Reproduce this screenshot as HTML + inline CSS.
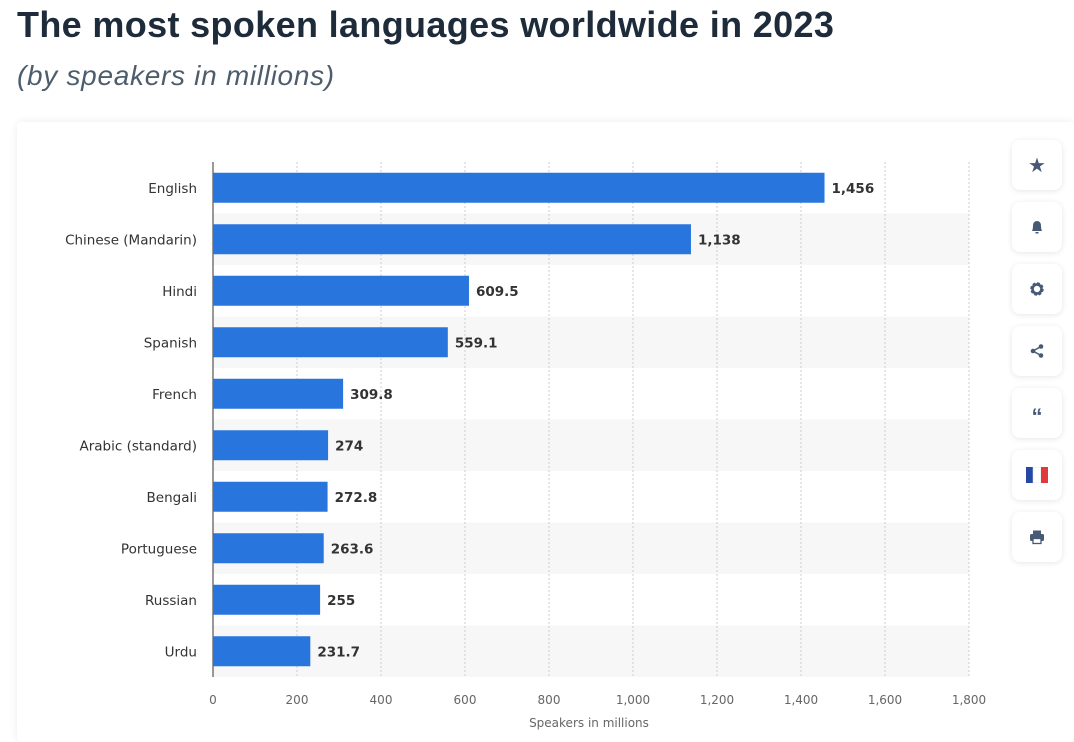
<!DOCTYPE html>
<html><head><meta charset="utf-8"><style>
body{margin:0;width:1074px;height:735px;background:#fff;font-family:"Liberation Sans",sans-serif;overflow:hidden;position:relative}
h1{position:absolute;left:17px;top:4px;margin:0;font-size:36px;font-weight:bold;color:#1d2b3a;letter-spacing:0.35px}
h2{position:absolute;left:17px;top:60px;margin:0;font-size:28px;font-style:italic;font-weight:normal;color:#4e5d6c;letter-spacing:0.7px}
#card{position:absolute;left:17px;top:122px;width:1057px;height:620px;background:#fff;box-shadow:0 0 8px rgba(0,0,0,.08);border-radius:4px}
.btn{position:absolute;left:1012px;width:50px;height:50px;background:#fff;border-radius:8px;box-shadow:0 1px 6px rgba(0,0,0,.1);display:flex;align-items:center;justify-content:center;color:#475a75;font-size:20px}
svg{position:absolute;left:0;top:0}
</style></head><body>
<h1>The most spoken languages worldwide in 2023</h1>
<h2>(by speakers in millions)</h2>
<div id="card"></div>
<svg id="chart" width="1074" height="735"></svg>
<div class="btn" style="top:140px">★</div>
<div class="btn" style="top:202px"><svg width="16" height="16" viewBox="0 0 16 16" style="position:static"><path d="M3 12 Q4 10 4 7 Q4 2 8 2 Q12 2 12 7 Q12 10 13 12Z M6.5 13h3v1.5h-3z" fill="#475a75"/></svg></div>
<div class="btn" style="top:264px"><svg width="16" height="16" viewBox="0 0 16 16" style="position:static"><circle cx="8" cy="8" r="5" fill="none" stroke="#475a75" stroke-width="3.5" stroke-dasharray="2.5,1.4"/><circle cx="8" cy="8" r="4.5" fill="none" stroke="#475a75" stroke-width="2.5"/></svg></div>
<div class="btn" style="top:326px"><svg width="16" height="16" viewBox="0 0 16 16" style="position:static"><circle cx="12" cy="3.5" r="2.3" fill="#475a75"/><circle cx="4" cy="8" r="2.3" fill="#475a75"/><circle cx="12" cy="12.5" r="2.3" fill="#475a75"/><path d="M12 3.5L4 8L12 12.5" stroke="#475a75" stroke-width="1.5" fill="none"/></svg></div>
<div class="btn" style="top:388px;font-weight:bold;font-size:22px;padding-top:8px;box-sizing:border-box">“</div>
<div class="btn" style="top:450px"><svg width="22" height="16" style="position:static"><rect x="0" y="0" width="7" height="16" fill="#2547a8"/><rect x="7" y="0" width="8" height="16" fill="#fff" stroke="#ddd" stroke-width=".5"/><rect x="15" y="0" width="7" height="16" fill="#e03a3e"/></svg></div>
<div class="btn" style="top:512px"><svg width="16" height="16" viewBox="0 0 16 16" style="position:static"><rect x="4" y="1.5" width="8" height="4" fill="#475a75"/><rect x="1" y="5" width="14" height="7" rx="1.5" fill="#475a75"/><rect x="4" y="9.5" width="8" height="5" fill="#fff" stroke="#475a75" stroke-width="1.3"/></svg></div>
<script>
const categories=["English","Chinese (Mandarin)","Hindi","Spanish","French","Arabic (standard)","Bengali","Portuguese","Russian","Urdu"];
const values=[1456,1138,609.5,559.1,309.8,274,272.8,263.6,255,231.7];
const valueLabels=["1,456","1,138","609.5","559.1","309.8","274","272.8","263.6","255","231.7"];
const ticks=[0,200,400,600,800,1000,1200,1400,1600,1800];
const tickLabels=["0","200","400","600","800","1,000","1,200","1,400","1,600","1,800"];
const svg=document.getElementById('chart');const NS='http://www.w3.org/2000/svg';
const x0=213,x1=969,yTop=162,rowH=51.5,xMax=1800;
const F='"DejaVu Sans",sans-serif';
const x=v=>x0+(x1-x0)*v/xMax;const y=i=>yTop+i*rowH;
function mk(t,a,txt){const e=document.createElementNS(NS,t);for(const k in a)e.setAttribute(k,a[k]);if(txt!=null)e.textContent=txt;svg.appendChild(e);return e;}
categories.forEach((c,i)=>{if(i%2==1){const b=mk('rect',{x:x0,y:y(i),width:x1-x0,height:rowH,fill:'#f7f7f7'});

}});
ticks.forEach((t,i)=>{if(i>0){const g=mk('line',{x1:x(t),x2:x(t),y1:yTop,y2:yTop+rowH*10,stroke:'#ccc','stroke-dasharray':'2,2'});

}
const l=mk('text',{x:x(t),y:704,'text-anchor':'middle','font-size':12,'font-family':F,fill:'#666'},tickLabels[i]);

});
const ax=mk('line',{x1:x0,x2:x0,y1:yTop,y2:yTop+rowH*10,stroke:'#333','stroke-width':1});


categories.forEach((c,i)=>{const cy=y(i)+rowH/2;
const r=mk('rect',{x:x0,y:cy-15,width:x(values[i])-x0,height:30,fill:'#2876dd'});


const l=mk('text',{x:197,y:cy+5,'text-anchor':'end','font-size':13.5,'font-family':F,fill:'#333'},c);


const v=mk('text',{x:x(values[i])+7,y:cy+5,'font-size':13.5,'font-weight':'bold','font-family':F,fill:'#333'},valueLabels[i]);

});
const t=mk('text',{x:(x0+x1)/2-2,y:727,'text-anchor':'middle','font-size':12,'font-family':F,fill:'#666'},'Speakers in millions');


</script>
</body></html>
